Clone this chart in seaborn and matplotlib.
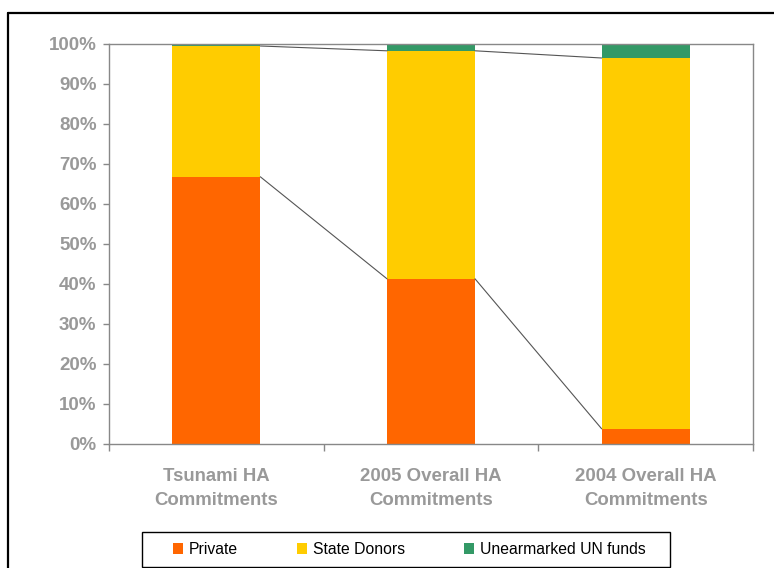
import matplotlib
matplotlib.use("Agg")
import matplotlib.pyplot as plt
import seaborn as sns
import pandas as pd
import numpy as np
from matplotlib.patches import Patch, Rectangle
from matplotlib.lines import Line2D

categories = ["Tsunami HA\nCommitments", "2005 Overall HA\nCommitments", "2004 Overall HA\nCommitments"]
private = [66.8, 41.3, 3.8]
state_donors = [32.7, 57.0, 92.7]
un_funds = [0.5, 1.7, 3.5]
series_names = ["Private", "State Donors", "Unearmarked UN funds"]
colors = ["#FF6600", "#FFCC00", "#339966"]
ytick_values = [0, 10, 20, 30, 40, 50, 60, 70, 80, 90, 100]

sns.set_theme(style="white")
plt.rcParams["font.family"] = ["Liberation Sans", "DejaVu Sans"]

W, H = 774, 568
fig = plt.figure(figsize=(W/100, H/100), dpi=100)
ax = fig.add_axes([109/W, 1-444/H, (753-109)/W, 400/H])

cum1 = np.array(private)
cum2 = cum1 + np.array(state_donors)
cum3 = cum2 + np.array(un_funds)
df = pd.DataFrame({"cat": categories, "p": cum1, "s": cum2, "u": cum3})

bw = 0.41
for col, c in zip(["u", "s", "p"], colors[::-1]):
    sns.barplot(data=df, x="cat", y=col, color=c, width=bw, ax=ax,
                saturation=1, edgecolor="none", linewidth=0)

# series connector lines
xs = np.arange(len(categories))
for cum in (cum1, cum2):
    for i in range(len(categories) - 1):
        ax.plot([xs[i] + bw/2, xs[i+1] - bw/2], [cum[i], cum[i+1]],
                color="#555555", lw=0.8, zorder=3)

ax.set_xlim(-0.5, len(categories) - 0.5)
ax.set_ylim(0, 100)
ax.set_xlabel("")
ax.set_ylabel("")
ax.set_yticks(ytick_values)
ax.set_yticklabels([f"{v}%" for v in ytick_values])
ax.set_xticks(xs)
ax.set_xticklabels(categories)
ax.set_xticks(np.arange(-0.5, len(categories)), minor=True)

for s in ax.spines.values():
    s.set_color("#888888")
    s.set_linewidth(1.0)

ax.tick_params(axis="y", which="major", left=True, length=4, width=1,
               color="#888888", labelcolor="#999999", labelsize=13.5, pad=5)
ax.tick_params(axis="x", which="major", bottom=False, length=0,
               labelcolor="#999999", labelsize=13.4, pad=17.5)
ax.tick_params(axis="x", which="minor", bottom=True, length=5, width=1,
               color="#888888")
for lab in ax.get_yticklabels() + ax.get_xticklabels():
    lab.set_fontweight("bold")
for lab in ax.get_xticklabels():
    lab.set_linespacing(1.5)

handles = [Patch(facecolor=c, edgecolor="none", label=n) for c, n in zip(colors, series_names)]
leg = fig.legend(handles=handles, loc="center left", bbox_to_anchor=(173/W, 1-549.5/H),
                 ncol=3, frameon=False, fontsize=11.3,
                 handlelength=0.64, handleheight=0.64, handletextpad=0.38,
                 columnspacing=3.75, borderpad=0, borderaxespad=0)
for t in leg.get_texts():
    t.set_color("black")

# legend box
fig.add_artist(Rectangle((142/W, 1/H), (670-142)/W, (567-532)/H, transform=fig.transFigure,
                         facecolor="none", edgecolor="black", lw=1.0))

# outer frame lines (left and top)
fig.add_artist(Line2D([8/W, 8/W], [0, 1-13/H], transform=fig.transFigure, color="black", lw=1.6))
fig.add_artist(Line2D([8/W, 1], [1-13/H, 1-13/H], transform=fig.transFigure, color="black", lw=1.6))

fig.savefig("out.png", dpi=100)
